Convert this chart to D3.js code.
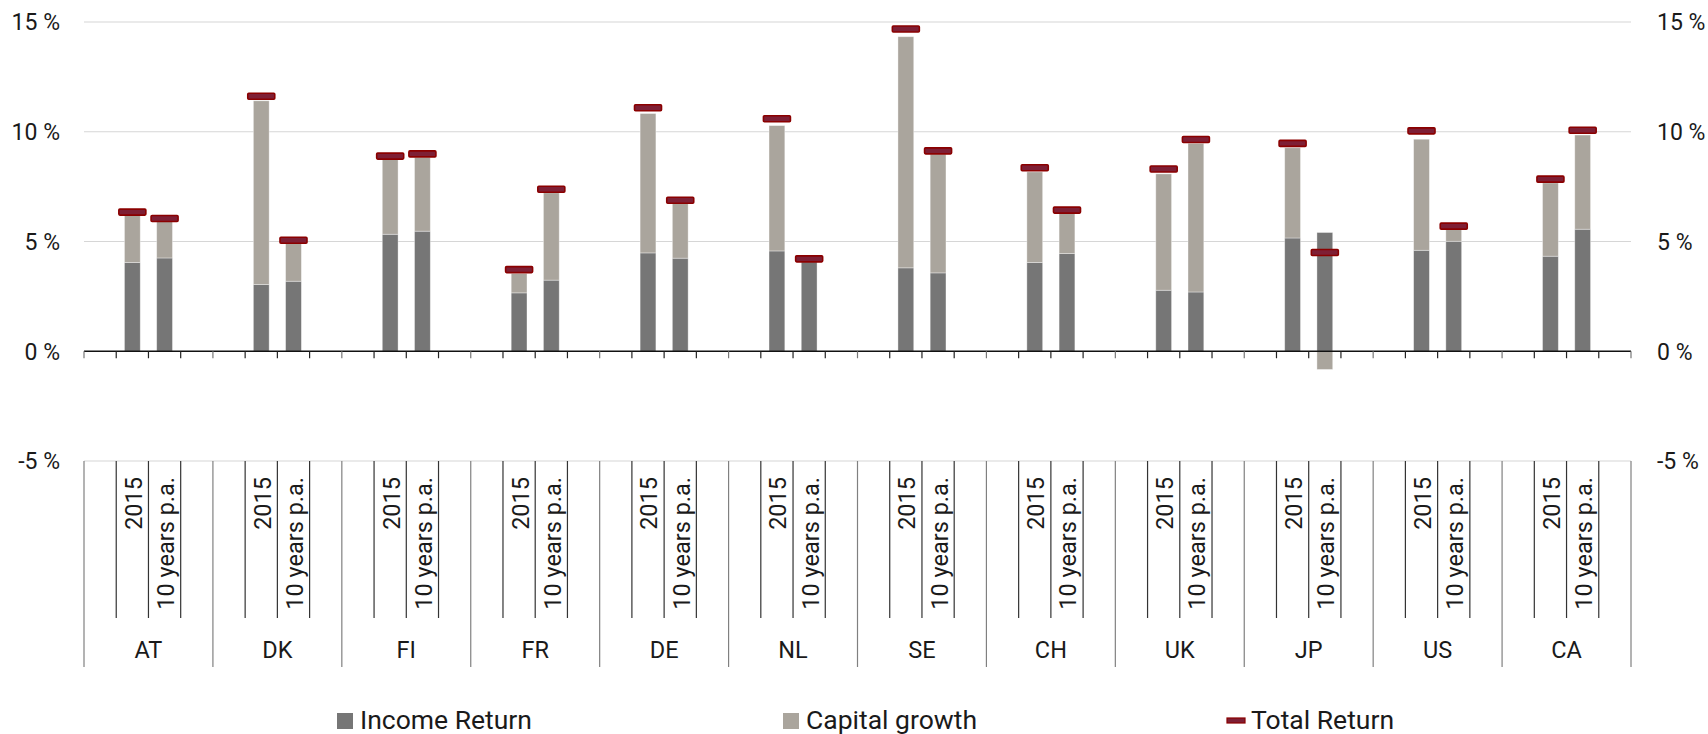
<!DOCTYPE html>
<html>
<head>
<meta charset="utf-8">
<script src="https://cdn.jsdelivr.net/npm/d3@7"></script>
<style>
    body { margin: 0; background: #fff; }
    text { font-family: Roboto, "Noto Sans", sans-serif; fill: #1a1a1a; }
</style>
</head>
<body>
<div id="viz"></div>
<script>
// data (percent)
const countries = ["AT", "DK", "FI", "FR", "DE", "NL", "SE", "CH", "UK", "JP", "US", "CA"];
const periods = ["2015", "10 years p.a."];
const yTicks = [-5, 0, 5, 10, 15];

const income2015 = [4.04, 3.04, 5.33, 2.66, 4.48, 4.57, 3.80, 4.04, 2.78, 5.16, 4.60, 4.33];
const capital2015 = [2.16, 8.37, 3.41, 0.88, 6.35, 5.71, 10.53, 4.13, 5.30, 4.11, 5.06, 3.34];
const total2015 = [6.34, 11.62, 8.89, 3.72, 11.09, 10.59, 14.68, 8.36, 8.30, 9.47, 10.04, 7.84];

const income10y = [4.25, 3.19, 5.47, 3.24, 4.24, 4.07, 3.57, 4.45, 2.70, 5.41, 5.01, 5.56];
const capital10y = [1.68, 1.72, 3.36, 3.98, 2.49, 0.0, 5.41, 1.83, 6.77, -0.83, 0.54, 4.29];
const total10y = [6.05, 5.06, 8.99, 7.38, 6.88, 4.21, 9.13, 6.43, 9.65, 4.50, 5.70, 10.07];

const width = 1708,
    height = 734;
const margin = { top: 22, right: 77, left: 84 },
    plotBottom = 461;

const colors = {
    income: "#767676",
    capital: "#aaa59d",
    total: "#7e1f35",
    totalStroke: "#8b0000"
};

// one row per bar
const rows = [];
countries.forEach((c, i) => {
    rows.push({ country: c, period: periods[0], income: income2015[i], capital: capital2015[i], total: total2015[i] });
    rows.push({ country: c, period: periods[1], income: income10y[i], capital: capital10y[i], total: total10y[i] });
});

const svg = d3.select("#viz")
    .append("svg")
    .attr("width", width)
    .attr("height", height);

// each country gets 4 slots: empty, 2015, 10 years, empty
const x0 = d3.scaleBand()
    .domain(countries)
    .range([margin.left, width - margin.right]);
const x1 = d3.scaleBand()
    .domain(["pre"].concat(periods, ["post"]))
    .range([0, x0.bandwidth()]);

const y = d3.scaleLinear()
    .domain([-5, 15])
    .range([plotBottom, margin.top]);

const barW = x1.bandwidth() * 0.49;
const slotCenter = d => x0(d.country) + x1(d.period) + x1.bandwidth() / 2;

// grid lines
svg.append("g")
    .selectAll("line")
    .data(yTicks.filter(d => d !== 0))
    .enter()
    .append("line")
        .attr("x1", margin.left)
        .attr("x2", width - margin.right)
        .attr("y1", d => y(d))
        .attr("y2", d => y(d))
        .attr("stroke", "#d6d6d6")
        .attr("stroke-width", 1.2);

// y labels, left and right
svg.append("g")
    .selectAll("text")
    .data(yTicks)
    .enter()
    .append("text")
        .attr("x", 60)
        .attr("y", d => y(d))
        .attr("dy", "0.36em")
        .attr("text-anchor", "end")
        .style("font-size", "23px")
        .text(d => d + " %");
svg.append("g")
    .selectAll("text")
    .data(yTicks)
    .enter()
    .append("text")
        .attr("x", 1657)
        .attr("y", d => y(d))
        .attr("dy", "0.36em")
        .attr("text-anchor", "start")
        .style("font-size", "23px")
        .text(d => d + " %");

// income bars
svg.append("g")
    .selectAll("rect")
    .data(rows)
    .enter()
    .append("rect")
        .attr("x", d => slotCenter(d) - barW / 2)
        .attr("width", barW)
        .attr("y", d => y(Math.max(0, d.income)))
        .attr("height", d => Math.abs(y(d.income) - y(0)))
        .attr("fill", colors.income)
        .attr("stroke", "#fff")
        .attr("stroke-opacity", 0.45)
        .attr("stroke-width", 0.8);

// capital growth bars, stacked on income when positive
svg.append("g")
    .selectAll("rect")
    .data(rows.filter(d => d.capital !== 0))
    .enter()
    .append("rect")
        .attr("x", d => slotCenter(d) - barW / 2)
        .attr("width", barW)
        .attr("y", d => d.capital > 0 ? y(d.income + d.capital) : y(0))
        .attr("height", d => d.capital > 0
            ? y(d.income) - y(d.income + d.capital)
            : y(d.capital) - y(0))
        .attr("fill", colors.capital)
        .attr("stroke", "#fff")
        .attr("stroke-opacity", 0.45)
        .attr("stroke-width", 0.8);

// zero axis + ticks at every slot boundary
const boundaries = [];
countries.forEach(c => {
    x1.domain().forEach(s => boundaries.push({ x: x0(c) + x1(s), group: s === "pre" }));
});
boundaries.push({ x: width - margin.right, group: true });

svg.append("line")
    .attr("x1", margin.left)
    .attr("x2", width - margin.right)
    .attr("y1", y(0))
    .attr("y2", y(0))
    .attr("stroke", "#111")
    .attr("stroke-width", 1.5);
svg.append("g")
    .selectAll("line")
    .data(boundaries)
    .enter()
    .append("line")
        .attr("x1", d => d.x)
        .attr("x2", d => d.x)
        .attr("y1", y(0))
        .attr("y2", y(0) + 7)
        .attr("stroke", d => d.group ? "#777" : "#222")
        .attr("stroke-width", 1.2);

// total return markers
svg.append("g")
    .selectAll("rect")
    .data(rows)
    .enter()
    .append("rect")
        .attr("x", d => slotCenter(d) - 13.5)
        .attr("y", d => y(d.total) - 3)
        .attr("width", 27)
        .attr("height", 6)
        .attr("rx", 1)
        .attr("fill", colors.total)
        .attr("stroke", colors.totalStroke)
        .attr("stroke-width", 1.6);

// category axis below the plot
svg.append("g")
    .selectAll("line")
    .data(boundaries)
    .enter()
    .append("line")
        .attr("x1", d => d.x)
        .attr("x2", d => d.x)
        .attr("y1", plotBottom)
        .attr("y2", d => d.group ? 667 : 618)
        .attr("stroke", d => d.group ? "#808080" : "#333")
        .attr("stroke-width", 1.2);

svg.append("g")
    .selectAll("text")
    .data(rows)
    .enter()
    .append("text")
        .attr("transform", d => `translate(${slotCenter(d) + 1},477) rotate(-90)`)
        .attr("text-anchor", "end")
        .attr("dy", "0.36em")
        .style("font-size", "23.5px")
        .text(d => d.period);

svg.append("g")
    .selectAll("text")
    .data(countries)
    .enter()
    .append("text")
        .attr("x", d => x0(d) + x0.bandwidth() / 2)
        .attr("y", 658)
        .attr("text-anchor", "middle")
        .style("font-size", "23.5px")
        .text(d => d);

// legend
const legend = svg.append("g");
legend.append("rect").attr("x", 337).attr("y", 713).attr("width", 16).attr("height", 16).attr("fill", colors.income);
legend.append("text").attr("x", 360).attr("y", 729).text("Income Return").style("font-size", "26.5px");
legend.append("rect").attr("x", 783).attr("y", 713).attr("width", 16).attr("height", 16).attr("fill", colors.capital);
legend.append("text").attr("x", 806).attr("y", 729).text("Capital growth").style("font-size", "26.5px");
legend.append("rect").attr("x", 1227).attr("y", 718).attr("width", 18).attr("height", 5).attr("fill", colors.total)
    .attr("stroke", colors.totalStroke).attr("stroke-width", 1.2);
legend.append("text").attr("x", 1251).attr("y", 729).text("Total Return").style("font-size", "26.5px");
</script>
</body>
</html>
